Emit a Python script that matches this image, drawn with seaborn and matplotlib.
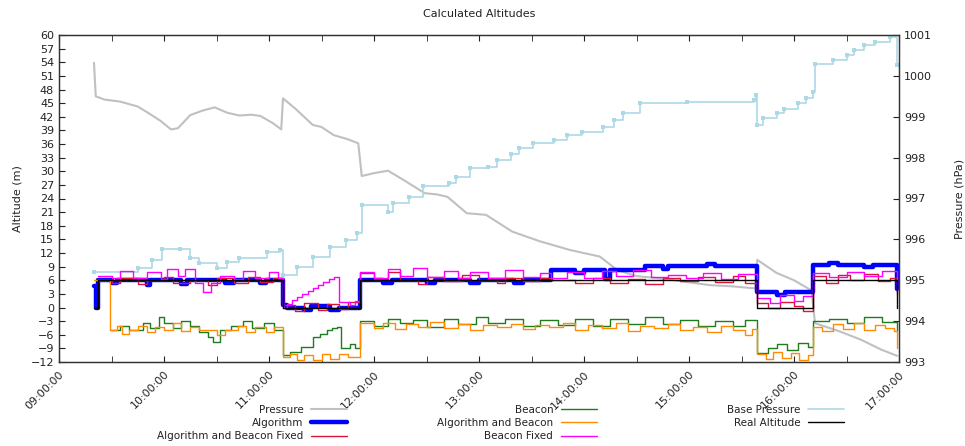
import pandas as pd
import matplotlib
matplotlib.use("Agg")
import matplotlib.pyplot as plt
import matplotlib.dates as mdates
from matplotlib.lines import Line2D
import seaborn as sns

# ---- data (times hh:mm, altitudes in m, pressure in hPa)
real_t = ["09:20", "09:22", "11:08", "11:52", "15:39", "16:11", "16:59"]
real_v = [0, 6, 0, 6, 0, 6, 0]

algo_t = ["09:20", "09:21", "09:22", "09:30", "09:33", "09:50", "09:52", "10:10", "10:13",
          "10:35", "10:40", "10:55", "10:58", "11:08", "11:10", "11:20", "11:24", "11:35",
          "11:40", "11:52", "12:05", "12:10", "12:30", "12:35", "12:55", "13:00", "13:20",
          "13:25", "13:41", "13:55", "14:00", "14:12", "14:15", "14:35", "14:45", "14:48",
          "15:10", "15:15", "15:39", "15:50", "15:55", "16:11", "16:20", "16:25", "16:40",
          "16:45", "16:59"]
algo_v = [4.8, 0, 6, 5.5, 6, 5, 6, 5.2, 6,
          5.5, 6, 5.3, 6, 0.5, 0, -0.5, 0.3, -0.5,
          0, 6, 5.5, 6, 5.3, 6, 5.5, 6, 5.4,
          6, 8.3, 7.6, 8.3, 6.2, 8.3, 9.2, 8.4, 9.2,
          9.6, 9.2, 3.5, 2.8, 3.5, 9.3, 9.8, 9.3, 9.0,
          9.3, 4]

abf_t = ["09:22", "09:30", "09:35", "09:45", "09:50", "10:00", "10:05", "10:15", "10:25",
         "10:30", "10:40", "10:48", "10:55", "11:02", "11:08", "11:15", "11:20", "11:28",
         "11:33", "11:40", "11:45", "11:52", "12:00", "12:08", "12:15", "12:25", "12:30",
         "12:40", "12:50", "13:00", "13:10", "13:15", "13:25", "13:35", "13:41", "13:55",
         "14:05", "14:15", "14:25", "14:35", "14:45", "14:55", "15:05", "15:15", "15:25",
         "15:32", "15:39", "15:45", "15:52", "16:00", "16:05", "16:11", "16:18", "16:25",
         "16:32", "16:40", "16:48", "16:55", "16:59"]
abf_v = [6, 5.5, 6.5, 5.2, 6, 6.8, 5.5, 6, 5,
         6.5, 5.5, 6.8, 5.6, 6.5, 0.5, -0.8, 1, -0.5,
         0.8, -0.3, 1.2, 7.5, 6.2, 7.8, 6, 5.2, 6.8,
         5.8, 7.2, 6, 5.3, 6.5, 5.8, 6.6, 6, 5.4,
         6.4, 5.5, 6.2, 5.2, 6.6, 5.8, 6.8, 5.6, 7,
         5.5, 1, -0.2, 1.3, 0.3, -0.7, 7, 5.5, 7.2,
         6, 7.4, 5.8, 6.5, 3]

bf_t = ["09:22", "09:30", "09:35", "09:42", "09:50", "09:58", "10:02", "10:08", "10:12",
        "10:18", "10:22", "10:27", "10:32", "10:40", "10:45", "10:52", "11:00", "11:05",
        "11:08", "11:10", "11:13", "11:16", "11:19", "11:22", "11:25", "11:28", "11:31",
        "11:34", "11:37", "11:40", "11:46", "11:49", "11:52", "12:00", "12:08", "12:15",
        "12:22", "12:30", "12:40", "12:48", "12:55", "13:05", "13:15", "13:25", "13:35",
        "13:41", "13:50", "14:00", "14:10", "14:18", "14:28", "14:38", "14:48", "14:58",
        "15:08", "15:18", "15:28", "15:39", "15:46", "15:52", "16:00", "16:05", "16:11",
        "16:20", "16:30", "16:40", "16:50", "16:59"]
bf_v = [7, 6.5, 8, 6.5, 7.8, 6.2, 8.5, 7, 8.5,
        5.5, 3.5, 5.5, 7, 6.2, 8, 6.5, 7.8, 6.5,
        0, 0.8, 1.6, 2.4, 3, 3.6, 4.2, 4.9, 5.6,
        6.2, 6.8, 1.3, 0.5, 1.5, 7.8, 6.6, 8.4, 7,
        8.6, 6.8, 8, 6.4, 7.8, 6.5, 8.2, 6.8, 7.6,
        6.5, 7.8, 6.6, 8, 7, 8.2, 6.8, 7.2, 6.5,
        7.6, 6.2, 7.4, 2, 1, 2.8, 1.4, 2.5, 7.6,
        6.8, 7.8, 7, 8, 6]

beacon_t = ["09:29", "09:35", "09:40", "09:48", "09:52", "09:57", "10:00", "10:05", "10:10",
            "10:15", "10:20", "10:25", "10:28", "10:32", "10:38", "10:45", "10:50", "10:57",
            "11:03", "11:08", "11:12", "11:18", "11:25", "11:29", "11:33", "11:36", "11:39",
            "11:41", "11:46", "11:49", "11:52", "12:00", "12:08", "12:15", "12:22", "12:30",
            "12:40", "12:48", "12:58", "13:05", "13:15", "13:25", "13:35", "13:45", "13:55",
            "14:05", "14:15", "14:25", "14:35", "14:45", "14:55", "15:05", "15:15", "15:25",
            "15:32", "15:39", "15:45", "15:50", "15:56", "16:02", "16:08", "16:11", "16:20",
            "16:30", "16:40", "16:50", "16:59"]
beacon_v = [-5, -4, -5, -3.5, -4.5, -2, -3.5, -4.5, -3,
            -4, -5.5, -6.5, -7.5, -5, -4, -3, -4.5, -3.5,
            -5, -10.5, -9.8, -8.6, -6.4, -5.8, -5, -4.6, -4.2,
            -8.9, -8, -9, -3, -4, -2.5, -3.5, -2.8, -4.2,
            -2.5, -3.6, -2.2, -3.5, -2.5, -4, -2.8, -3.8, -2.6,
            -4, -2.5, -3.6, -2.2, -3.6, -2.8, -4, -3, -4,
            -2.8, -10, -9, -8, -9.4, -7.8, -8.6, -3, -2.6,
            -3.4, -2.2, -3.2, -5]

ab_t = ["09:20", "09:29", "09:33", "09:36", "09:40", "09:45", "09:50", "09:55", "10:00",
        "10:05", "10:10", "10:15", "10:20", "10:30", "10:35", "10:42", "10:47", "10:52",
        "10:58", "11:03", "11:08", "11:12", "11:16", "11:20", "11:25", "11:30", "11:35",
        "11:40", "11:45", "11:52", "12:00", "12:05", "12:12", "12:18", "12:25", "12:32",
        "12:40", "12:48", "12:55", "13:02", "13:10", "13:18", "13:25", "13:32", "13:40",
        "13:48", "13:55", "14:02", "14:10", "14:18", "14:25", "14:32", "14:40", "14:48",
        "14:55", "15:02", "15:10", "15:18", "15:25", "15:32", "15:36", "15:39", "15:44",
        "15:48", "15:53", "15:58", "16:03", "16:08", "16:11", "16:16", "16:22", "16:28",
        "16:34", "16:40", "16:46", "16:52", "16:57", "16:59"]
ab_v = [6, -5, -4, -5.8, -5, -4, -5.5, -4.2, -5,
        -3.5, -5.2, -4.2, -5, -6, -5, -4, -5.5, -4.3,
        -5.4, -4.2, -11, -10.2, -11.6, -10.4, -11.5, -10.3, -11.4,
        -10.2, -11, -3.5, -4.6, -3.4, -4.8, -3.6, -4.4, -3.2,
        -4.6, -3.6, -5, -3.8, -4.4, -3.6, -4.8, -3.8, -4.4,
        -3.5, -5, -3.8, -4.6, -3.4, -5.2, -4, -4.6, -3.6,
        -5, -4.2, -5.4, -4, -5, -6, -4.8, -10.2, -11.4,
        -9.8, -11.2, -10, -11.6, -10.4, -4.2, -5.2, -3.6, -4.8,
        -3.4, -5, -3.8, -4.6, -5.2, -9]

press_t = ["09:20", "09:21", "09:26", "09:35", "09:45", "09:50", "09:58", "10:04", "10:08",
           "10:15", "10:22", "10:29", "10:36", "10:43", "10:50", "10:55", "11:02", "11:07",
           "11:08", "11:15", "11:25", "11:30", "11:37", "11:45", "11:51", "11:53", "12:00",
           "12:08", "12:17", "12:29", "12:36", "12:42", "12:53", "13:04", "13:19", "13:35",
           "13:52", "14:09", "14:19", "14:30", "14:43", "15:00", "15:12", "15:25", "15:38",
           "15:39", "15:50", "16:00", "16:10", "16:12", "16:26", "16:38", "16:50", "16:59"]
press_v = [1000.32, 999.5, 999.42, 999.37, 999.25, 999.12, 998.9, 998.69, 998.72,
           999.04, 999.15, 999.23, 999.1, 999.03, 999.05, 999.02, 998.85, 998.69,
           999.45, 999.2, 998.8, 998.75, 998.55, 998.45, 998.35, 997.55, 997.62,
           997.68, 997.45, 997.13, 997.1, 997.04, 996.64, 996.6, 996.19, 995.95,
           995.74, 995.58, 995.25, 995.1, 995.05, 994.95, 994.88, 994.85, 994.8,
           995.5, 995.18, 995.0, 994.75, 993.95, 993.75, 993.55, 993.3, 993.15]

base_t = ["09:20", "09:45", "09:53", "09:59", "10:09", "10:15", "10:20", "10:30", "10:36",
          "10:43", "10:59", "11:06", "11:08", "11:16", "11:25", "11:35", "11:44", "11:50",
          "11:53", "12:08", "12:11", "12:20", "12:28", "12:43", "12:47", "12:55", "13:05",
          "13:10", "13:18", "13:23", "13:31", "13:43", "13:50", "13:59", "14:11", "14:17",
          "14:22", "14:32", "14:59", "15:37", "15:38", "15:39", "15:42", "15:50", "15:54",
          "16:02", "16:07", "16:11", "16:12", "16:22", "16:30", "16:34", "16:40", "16:46",
          "16:55", "16:59"]
base_v = [995.2, 995.3, 995.5, 995.76, 995.76, 995.54, 995.42, 995.3, 995.45,
          995.54, 995.7, 995.74, 995.13, 995.33, 995.58, 995.82, 995.98, 996.15,
          996.84, 996.68, 996.89, 997.04, 997.3, 997.37, 997.53, 997.74, 997.78,
          997.94, 998.1, 998.23, 998.35, 998.43, 998.55, 998.63, 998.76, 998.92,
          999.08, 999.33, 999.37, 999.4, 999.53, 998.8, 998.97, 999.1, 999.2,
          999.33, 999.45, 999.6, 1000.3, 1000.39, 1000.51, 1000.63, 1000.76, 1000.83,
          1000.95, 1000.27]


def to_time(hhmm):
    return pd.to_datetime(["2016-05-12 " + s for s in hhmm])


def draw(axis, times, values, label, color, lw, steps=True, **kw):
    sns.lineplot(x=to_time(times), y=values, ax=axis, color=color, linewidth=lw,
                 drawstyle="steps-post" if steps else "default",
                 estimator=None, sort=False, legend=False, label=label, **kw)


sns.set_style("ticks")
plt.rcParams["font.family"] = ["DejaVu Sans"]
plt.rcParams["font.size"] = 7.5
plt.rcParams["text.color"] = "#222222"
plt.rcParams["axes.labelcolor"] = "#222222"
plt.rcParams["xtick.color"] = "#222222"
plt.rcParams["ytick.color"] = "#222222"

fig = plt.figure(figsize=(9.65, 4.46), dpi=100)
ax = fig.add_axes([59 / 965, 1 - 362 / 446, 840 / 965, 327 / 446])
ax2 = ax.twinx()

colors = {
    "Pressure": "#c0c0c0",
    "Algorithm": "#0000ff",
    "Algorithm and Beacon Fixed": "#dc143c",
    "Beacon": "#1e7b1e",
    "Algorithm and Beacon": "#ff8c00",
    "Beacon Fixed": "#ff00ff",
    "Base Pressure": "#add8e6",
    "Real Altitude": "#000000",
}
widths = {
    "Pressure": 1.5, "Algorithm": 3.2, "Algorithm and Beacon Fixed": 1.0,
    "Beacon": 1.0, "Algorithm and Beacon": 1.0, "Beacon Fixed": 1.0,
    "Base Pressure": 1.2, "Real Altitude": 1.0,
}

# pressure series on the right axis
draw(ax2, press_t, press_v, "Pressure", colors["Pressure"], widths["Pressure"], steps=False)
draw(ax2, base_t, base_v, "Base Pressure", colors["Base Pressure"], widths["Base Pressure"],
     marker="s", markersize=2.5, markeredgewidth=0)

# altitude series on the left axis
draw(ax, algo_t, algo_v, "Algorithm", colors["Algorithm"], widths["Algorithm"])
draw(ax, abf_t, abf_v, "Algorithm and Beacon Fixed", colors["Algorithm and Beacon Fixed"],
     widths["Algorithm and Beacon Fixed"])
draw(ax, beacon_t, beacon_v, "Beacon", colors["Beacon"], widths["Beacon"])
draw(ax, ab_t, ab_v, "Algorithm and Beacon", colors["Algorithm and Beacon"],
     widths["Algorithm and Beacon"])
draw(ax, bf_t, bf_v, "Beacon Fixed", colors["Beacon Fixed"], widths["Beacon Fixed"])
draw(ax, real_t, real_v, "Real Altitude", colors["Real Altitude"], widths["Real Altitude"])

ax.set_zorder(ax2.get_zorder() + 1)
ax.patch.set_visible(False)

ax.set_xlim(to_time(["09:00"])[0], to_time(["17:00"])[0])
ax.set_ylim(-12, 60)
ax.set_yticks(range(-12, 61, 3))
ax2.set_ylim(993, 1001)
ax2.set_yticks(range(993, 1002))

ax.xaxis.set_major_locator(mdates.HourLocator())
ax.xaxis.set_minor_locator(mdates.MinuteLocator(byminute=[30]))
ax.xaxis.set_major_formatter(mdates.DateFormatter("%H:%M:%S"))
plt.setp(ax.get_xticklabels(), rotation=45, ha="right", rotation_mode="anchor")

ax.tick_params(axis="x", which="both", direction="in", top=True, length=4, labelsize=8, pad=5)
ax.tick_params(axis="y", direction="in", right=False, length=4, labelsize=8)
ax2.tick_params(axis="y", direction="in", length=4, labelsize=8)
for a in (ax, ax2):
    for s in a.spines.values():
        s.set_linewidth(0.9)
        s.set_color("#333333")

ax.set_xlabel("")
ax.set_ylabel("Altitude (m)", fontsize=8, labelpad=6)
ax2.set_ylabel("Pressure (hPa)", fontsize=8, labelpad=16)
ax.set_title("Calculated Altitudes", fontsize=8, pad=13)

for a in (ax, ax2):
    if a.get_legend() is not None:
        a.get_legend().remove()

# legend below the plot, three columns, label then line sample
columns = [
    (["Pressure", "Algorithm", "Algorithm and Beacon Fixed"], 347),
    (["Beacon", "Algorithm and Beacon", "Beacon Fixed"], 597),
    (["Base Pressure", "Real Altitude"], 844),
]
for names, xend in columns:
    handles = [Line2D([], [], color=colors[n], linewidth=widths[n]) for n in names]
    fig.legend(handles, names, loc="upper right", bbox_to_anchor=(xend / 965, 1 - 405 / 446),
               frameon=False, markerfirst=False, handlelength=3.5, handletextpad=0.7,
               labelspacing=0.3, borderpad=0, borderaxespad=0, fontsize=7.5)

fig.savefig("out.png", dpi=100)
